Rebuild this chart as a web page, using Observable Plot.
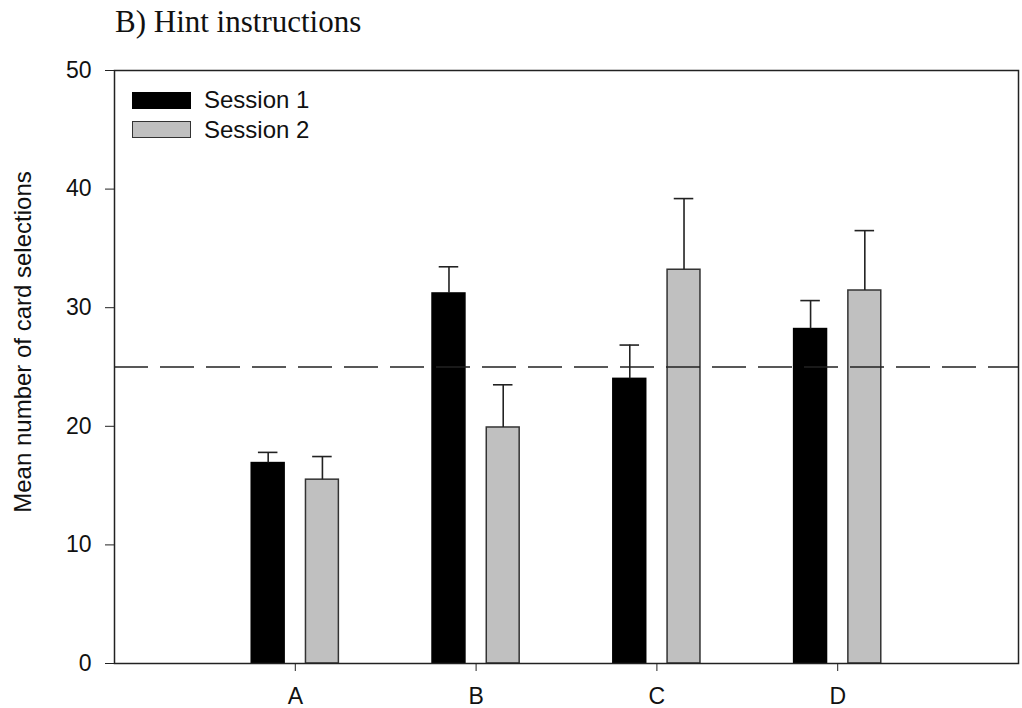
<!DOCTYPE html>
<html>
<head>
<meta charset="utf-8">
<script src="https://cdn.jsdelivr.net/npm/d3@7"></script>
<script src="https://cdn.jsdelivr.net/npm/@observablehq/plot@0.6"></script>
<style>
  body { margin: 0; background: #fff; }
  #wrap { position: relative; width: 1022px; height: 708px; overflow: hidden; }
  #title {
    position: absolute; left: 115px; top: 6px;
    font-family: "Liberation Serif", "Times New Roman", serif;
    font-size: 31px; line-height: 31px; color: #111; white-space: nowrap;
  }
  #chart { position: absolute; left: 0; top: 46px; }
  #ytitle {
    position: absolute; left: 23px; top: 342px;
    transform: translate(-50%, -50%) rotate(-90deg);
    font-family: "Liberation Sans", Arial, sans-serif;
    font-size: 24px; line-height: 24px; color: #111; white-space: nowrap;
  }
  .legend-row { position: absolute; left: 132px; height: 18px; display: flex; align-items: center; }
  .legend-row .sw { width: 57px; height: 15px; box-sizing: content-box; }
  .legend-row span {
    margin-left: 13px; font-family: "Liberation Sans", Arial, sans-serif;
    font-size: 24px; color: #111; white-space: nowrap;
  }
</style>
</head>
<body>
<div id="wrap">
  <div id="title">B) Hint instructions</div>
  <div id="chart"></div>
  <div id="ytitle">Mean number of card selections</div>
  <div id="legend"></div>
</div>
<script>
// Conditions along the x axis and the two sessions compared within each
const conditions = ["A", "B", "C", "D"];
const sessions = ["Session 1", "Session 2"];
const sessionFill = ["#000000", "#c0c0c0"];
const sessionStroke = ["#000000", "#333333"];

// Mean number of card selections and error (upper bar only)
const session1Mean = [16.9, 31.2, 24.0, 28.2];
const session1Err  = [0.9, 2.25, 2.85, 2.4];
const session2Mean = [15.5, 19.9, 33.2, 31.45];
const session2Err  = [1.95, 3.6, 6.0, 5.05];

// Chance level reference line and axis ticks
const chanceLevel = 25;
const yTicks = [0, 10, 20, 30, 40, 50];

// One row per bar: condition slot 1..4, shifted left/right by session
const barOffset = [-0.15, 0.15];
const halfBar = 0.091;
const halfCap = 0.054;
const rows = [];
conditions.forEach((c, i) => {
  [session1Mean, session2Mean].forEach((means, s) => {
    const errs = s === 0 ? session1Err : session2Err;
    rows.push({
      condition: c,
      session: sessions[s],
      s,
      center: i + 1 + barOffset[s],
      mean: means[i],
      top: means[i] + errs[i]
    });
  });
});

const chart = Plot.plot({
  width: 1022,
  height: 662,
  marginLeft: 114,
  marginRight: 4,
  marginTop: 24,
  marginBottom: 45,
  style: {
    fontFamily: '"Liberation Sans", Arial, sans-serif',
    fontSize: "23px",
    color: "#111",
    background: "#fff"
  },
  x: { domain: [0, 5], axis: null },
  y: { domain: [0, 50], axis: null },
  marks: [
    Plot.rectY(rows, {
      x1: d => d.center - halfBar,
      x2: d => d.center + halfBar,
      y: "mean",
      fill: d => sessionFill[d.s],
      stroke: d => sessionStroke[d.s],
      strokeWidth: 1.5
    }),
    Plot.ruleY([chanceLevel], {
      stroke: "#222",
      strokeWidth: 1.5,
      strokeDasharray: "34,12"
    }),
    Plot.ruleX(rows, {
      x: "center",
      y1: "mean",
      y2: "top",
      stroke: "#222",
      strokeWidth: 1.6
    }),
    Plot.ruleY(rows, {
      y: "top",
      x1: d => d.center - halfCap,
      x2: d => d.center + halfCap,
      stroke: "#222",
      strokeWidth: 1.6
    }),
    Plot.frame({ stroke: "#222", strokeWidth: 1.5 }),
    Plot.axisY({
      ticks: yTicks,
      tickSize: 9,
      tickPadding: 14,
      label: null,
      fontSize: 23,
      stroke: "#222"
    }),
    Plot.axisX({
      ticks: [1, 2, 3, 4],
      tickFormat: v => conditions[v - 1],
      tickSize: 8,
      tickPadding: 16,
      label: null,
      fontSize: 23,
      stroke: "#222"
    })
  ]
});
document.getElementById("chart").appendChild(chart);

// Legend drawn inside the top-left corner of the frame
const legend = document.getElementById("legend");
sessions.forEach((name, s) => {
  const row = document.createElement("div");
  row.className = "legend-row";
  row.style.top = (91 + s * 29.5) + "px";
  const sw = document.createElement("div");
  sw.className = "sw";
  sw.style.background = sessionFill[s];
  sw.style.border = "1.5px solid " + sessionStroke[s];
  const label = document.createElement("span");
  label.textContent = name;
  row.appendChild(sw);
  row.appendChild(label);
  legend.appendChild(row);
});
</script>
</body>
</html>
